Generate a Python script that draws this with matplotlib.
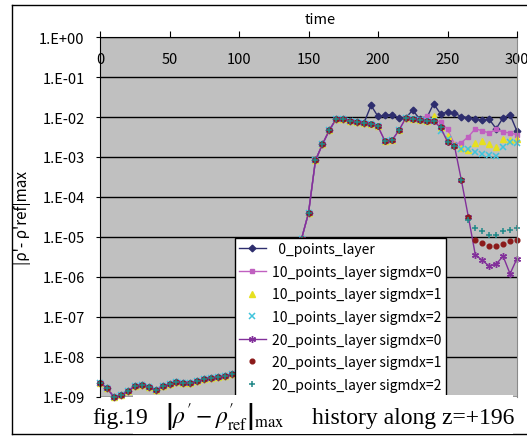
import matplotlib
matplotlib.use("Agg")
import matplotlib.pyplot as plt
from matplotlib.lines import Line2D
from matplotlib.patches import Rectangle
from matplotlib.ticker import NullLocator

plt.rcParams["mathtext.fontset"] = "stix"

# time axis: one sample every 5 units
time = list(range(0, 305, 5))

# t = 0 .. 190, all seven runs lie on top of each other
common_early = [2.24e-9, 1.68e-9, 1.0e-9, 1.1e-9, 1.41e-9, 1.84e-9, 2.03e-9,
                1.74e-9, 1.46e-9, 1.84e-9, 2.11e-9, 2.37e-9, 2.24e-9, 2.24e-9,
                2.55e-9, 2.87e-9, 3.0e-9, 3.09e-9, 3.35e-9, 3.67e-9, 4.0e-9,
                4.6e-9, 6.0e-9, 1.0e-8, 2.2e-8, 6.0e-8, 2.0e-7, 8.0e-7,
                3.0e-6, 9.0e-6, 3.98e-5, 8.2e-4, 2.07e-3, 4.7e-3, 9.1e-3,
                8.7e-3, 8.1e-3, 7.6e-3, 7.2e-3]

# t = 195 .. 300
tail_0pts = [1.95e-2, 1.03e-2, 1.1e-2, 1.15e-2, 9.5e-3, 9.6e-3, 1.48e-2, 8.9e-3,
             9.4e-3, 2.15e-2, 1.2e-2, 1.33e-2, 1.26e-2, 1.02e-2, 9.6e-3, 8.9e-3,
             8.4e-3, 8.8e-3, 5.1e-3, 9.6e-3, 1.14e-2, 4.4e-3]

# t = 195 .. 230, shared by the six layered runs
common_mid = [6.5e-3, 5.8e-3, 2.5e-3, 2.6e-3, 4.6e-3, 9.5e-3, 9.1e-3, 8.5e-3]

# t = 235 .. 300
tail_10_s0 = [1.04e-2, 8.5e-3, 7.5e-3, 4.9e-3, 2.1e-3, 2.3e-3, 3.2e-3, 5.1e-3,
              4.5e-3, 4.0e-3, 4.9e-3, 4.2e-3, 4.0e-3, 3.6e-3]
tail_10_s1 = [7.9e-3, 1.03e-2, 5.6e-3, 3.35e-3, 2.0e-3, 1.7e-3, 1.5e-3, 2.2e-3,
              2.5e-3, 2.1e-3, 1.78e-3, 2.9e-3, 2.7e-3, 2.9e-3]
tail_10_s2 = [7.9e-3, 8.0e-3, 4.5e-3, 2.9e-3, 1.84e-3, 1.6e-3, 1.55e-3, 1.3e-3,
              1.22e-3, 1.15e-3, 1.05e-3, 1.75e-3, 2.37e-3, 2.3e-3]

# t = 235 .. 260, shared by the 20-point runs
common_20 = [7.9e-3, 7.9e-3, 5.5e-3, 2.4e-3, 1.9e-3, 2.6e-4]

# t = 265 .. 300
tail_20_s0 = [3.2e-5, 3.6e-6, 2.6e-6, 1.88e-6, 2.1e-6, 3.3e-6, 1.2e-6, 2.9e-6]
tail_20_s1 = [3.2e-5, 8.2e-6, 7.2e-6, 6.0e-6, 6.0e-6, 6.8e-6, 7.8e-6, 8.4e-6]
tail_20_s2 = [2.6e-5, 1.68e-5, 1.38e-5, 1.1e-5, 1.1e-5, 1.38e-5, 1.46e-5, 1.68e-5]

labels = ["  0_points_layer",
          "10_points_layer sigmdx=0",
          "10_points_layer sigmdx=1",
          "10_points_layer sigmdx=2",
          "20_points_layer sigmdx=0",
          "20_points_layer sigmdx=1",
          "20_points_layer sigmdx=2"]

series = [
    common_early + tail_0pts,
    common_early + common_mid + tail_10_s0,
    common_early + common_mid + tail_10_s1,
    common_early + common_mid + tail_10_s2,
    common_early + common_mid + common_20 + tail_20_s0,
    common_early + common_mid + common_20 + tail_20_s1,
    common_early + common_mid + common_20 + tail_20_s2,
]

styles = [
    dict(color="#2E2E6E", marker="D", ms=3.4, ls="-"),
    dict(color="#C060C0", marker="s", ms=3.4, ls="-"),
    dict(color="#E6E020", marker="^", ms=4.3, ls="none"),
    dict(color="#40C4DC", marker="x", ms=4.0, ls="none", mew=1.1),
    dict(color="#82309A", marker=(6, 2, 0), ms=5.0, ls="-", mew=1.0),
    dict(color="#8B1A1A", marker="o", ms=3.4, ls="none"),
    dict(color="#208888", marker="+", ms=5.0, ls="none", mew=1.1),
]

W, H = 527, 439
fig = plt.figure(figsize=(W / 100, H / 100), dpi=100)
ax = fig.add_axes([100 / W, 41 / H, 417 / W, 360 / H])
ax.set_facecolor("#C0C0C0")

for vals, lab, st in zip(series, labels, styles):
    ax.plot(time, vals, label=lab, lw=1.0, clip_on=False, **st)

ax.set_yscale("log")
ax.set_ylim(1e-9, 1)
ax.set_xlim(0, 300)
ax.set_yticks([10.0 ** k for k in range(-9, 1)])
ax.set_yticklabels([f"1.E{k:+03d}" for k in range(-9, 1)])
ax.yaxis.set_minor_locator(NullLocator())
ax.grid(axis="y", color="black", lw=1.0)
ax.set_axisbelow(True)

ax.xaxis.tick_top()
ax.set_xticks(range(0, 301, 50))
ax.tick_params(axis="x", direction="out", length=4, pad=-25, labelsize=10.5)
ax.tick_params(axis="y", direction="out", length=3, pad=8, labelsize=10.5)
for lab in ax.get_xticklabels() + ax.get_yticklabels():
    lab.set_family(["Noto Sans CJK JP", "DejaVu Sans"])

for side in ["top", "left"]:
    ax.spines[side].set_color("black")
ax.spines["right"].set_color("#8A8A8A")
ax.spines["bottom"].set_visible(False)

leg = ax.legend(loc="upper left", bbox_to_anchor=(0.3237, 0.4417),
                borderaxespad=0, fancybox=False, framealpha=1,
                edgecolor="black", handlelength=1.9, handletextpad=0.5,
                labelspacing=0.62, borderpad=0.3,
                prop={"family": ["Noto Sans CJK JP", "DejaVu Sans"], "size": 10})
leg.get_frame().set_linewidth(1.0)

fig.text(320 / W, 1 - 20 / H, "time", ha="center", va="center", fontsize=10.5,
         family=["Noto Sans CJK JP", "DejaVu Sans"])
fig.text(22 / W, 1 - 218 / H, "|ρ'- ρ'ref|max", rotation=90, ha="center",
         va="center", fontsize=11, family=["Noto Sans CJK JP", "DejaVu Sans"])

# outer chart frame
for xs, ys in [([12, 600], [6, 6]), ([12, 12], [6, 435]), ([12, 600], [435, 435])]:
    fig.add_artist(Line2D([x / W for x in xs], [1 - y / H for y in ys],
                          color="black", lw=1.0))

# caption pasted on the bottom
fig.add_artist(Rectangle((133 / W, 1 - 435 / H), 380 / W, 39 / H,
                         facecolor="white", edgecolor="none", zorder=5))
fig.text(92 / W, 1 - 424 / H, "fig.19", fontsize=17, family="Liberation Serif",
         va="baseline", zorder=6)
fig.text(165 / W, 1 - 424 / H,
         r"$\left|\rho^{\prime}-\rho^{\prime}_{\mathrm{ref}}\right|_{\max}$",
         fontsize=17, va="baseline", zorder=6)
fig.text(312 / W, 1 - 424 / H, "history along z=+196", fontsize=17,
         family="Liberation Serif", va="baseline", zorder=6)

fig.savefig("out.png", dpi=100)
